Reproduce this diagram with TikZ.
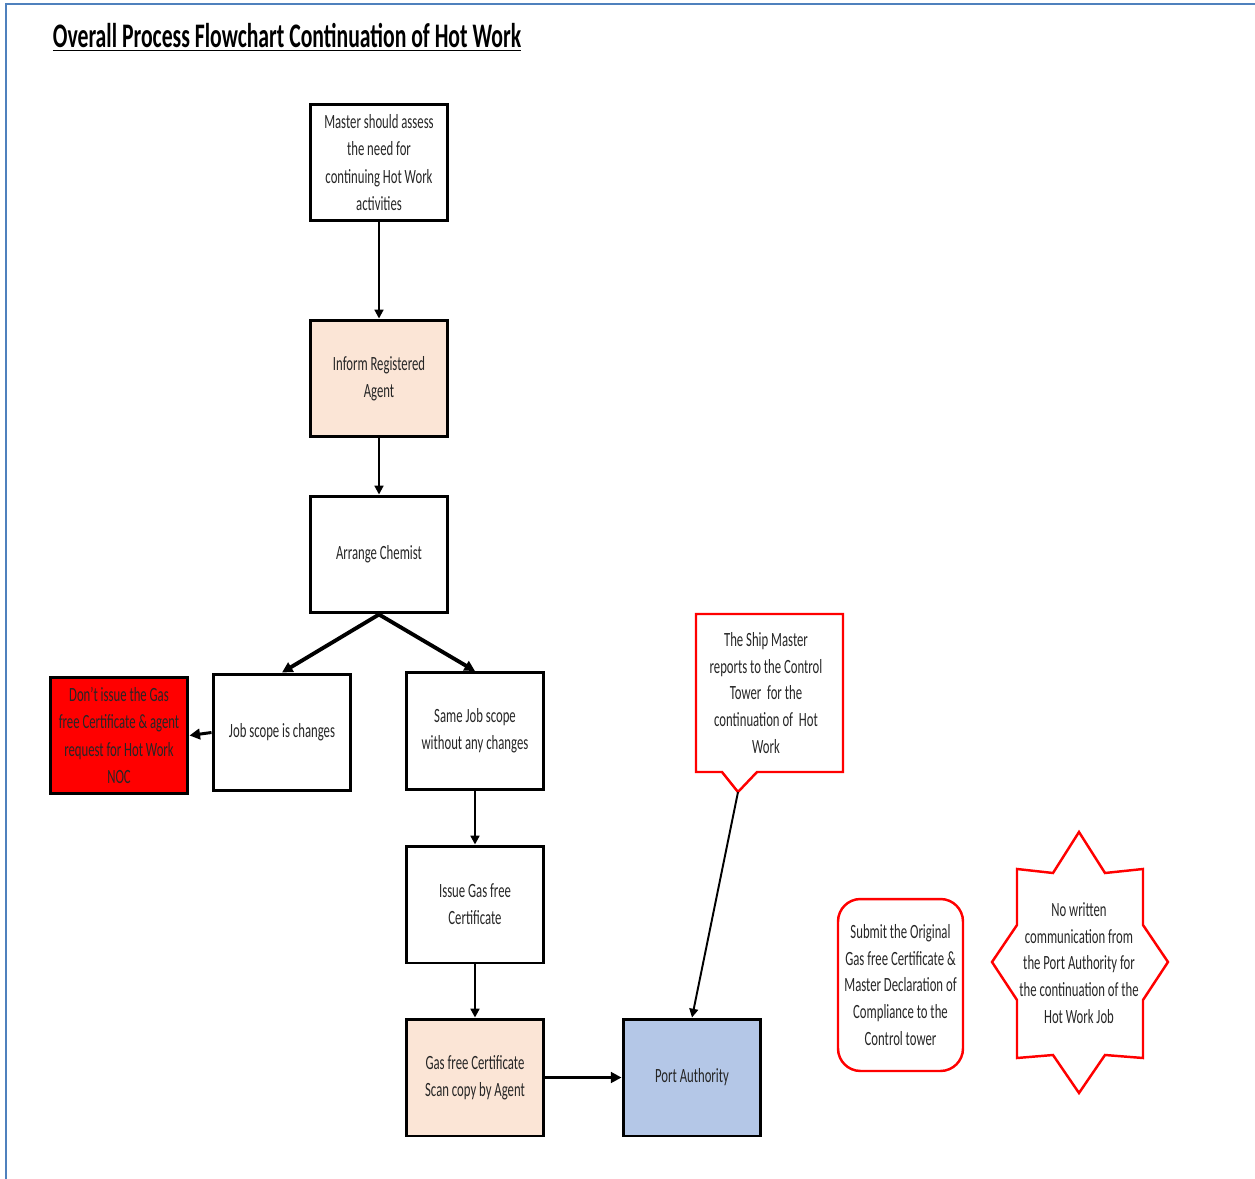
\documentclass[tikz,border=0pt]{standalone}
\usepackage{fontspec}
\setmainfont[FakeStretch=0.63]{Carlito}
\usetikzlibrary{arrows.meta}

\definecolor{framblue}{HTML}{4F81BD}
\definecolor{peach}{HTML}{FBE5D6}
\definecolor{paleblue}{HTML}{B4C7E7}
\definecolor{alarmred}{HTML}{FF0000}
\definecolor{txtgray}{HTML}{262626}

\begin{document}
\begin{tikzpicture}[x=0.02cm,y=-0.02cm,
    box/.style={draw,line width=1.7pt,minimum width=2.76cm,minimum height=2.34cm,
      inner sep=2pt,align=center,text=txtgray,
      font=\fontsize{11.5}{15.5}\selectfont},
    redline/.style={draw=alarmred,line width=1.4pt},
    flow/.style={line width=1.1pt,-{Triangle[length=5pt,width=5pt]}},
    branch/.style={line width=2.2pt,-{Triangle[length=6pt,width=6pt]}}]
  \useasboundingbox (0,0) rectangle (1255,1179);
  % frame and title
  \draw[framblue,line width=1.2pt] (6,1179) -- (6,4) -- (1255,4);
  \node[font=\fontsize{19.6}{24}\selectfont\bfseries,text=black] (title) at (287,37)
    {\underline{Overall Process Flowchart Continuation of Hot Work}};

  % main column
  \node[box] (master) at (379,162.5) {Master should assess\\the need for\\continuing Hot Work\\activities};
  \node[box,fill=peach] (inform) at (379,378.5) {Inform Registered\\Agent};
  \node[box] (chemist) at (379,554.5) {Arrange Chemist};
  \node[box] (jobchg) at (282,732.5) {Job scope is changes};
  \node[box] (samejob) at (475,731) {Same Job scope\\without any changes};
  \node[box,fill=alarmred] (refuse) at (119,735.5) {Don't issue the Gas\\free Certificate \& agent\\request for Hot Work\\NOC};
  \node[box] (issue) at (475,904.5) {Issue Gas free\\Certificate};
  \node[box,fill=peach] (scan) at (475,1077.5) {Gas free Certificate\\Scan copy by Agent};
  \node[box,fill=paleblue] (port) at (692,1077.5) {Port Authority};

  % callout
  \node[align=center,text=txtgray,font=\fontsize{11.5}{15.3}\selectfont]
    (report) at (766,693) {The Ship Master\\reports to the Control\\Tower\ \ for the\\continuation of\ \ Hot\\Work};
  \draw[redline,line join=miter] (696,614) -- (843,614) -- (843,772) -- (757,772)
    -- (738,792) coordinate (tip) -- (722,772) -- (696,772) -- cycle;

  % side notes
  \node[draw=alarmred,line width=1.4pt,rounded corners=0.45cm,minimum width=2.5cm,
    minimum height=3.44cm,align=center,text=txtgray,inner sep=1pt,
    font=\fontsize{11.5}{15.3}\selectfont]
    (submit) at (900.5,985) {Submit the Original\\Gas free Certificate \&\\Master Declaration of\\Compliance to the\\Control tower};
  \node[align=center,text=txtgray,font=\fontsize{11.5}{15.3}\selectfont]
    (nowritten) at (1079,963) {No written\\communication from\\the Port Authority for\\the continuation of the\\Hot Work Job};
  \draw[redline] (1079,832) -- (1105,873) -- (1143,869) -- (1143,925) -- (1168,962)
    -- (1143,1000) -- (1143,1058) -- (1105,1055) -- (1079,1093) -- (1053,1055)
    -- (1017,1058) -- (1017,1000) -- (992,962) -- (1017,925) -- (1017,869)
    -- (1053,873) -- cycle;

  % connectors
  \draw[flow] (master) -- (inform);
  \draw[flow] (inform) -- (chemist);
  \draw[branch] (chemist.south) -- (jobchg.north);
  \draw[branch] (chemist.south) -- (samejob.north);
  \draw[branch,line width=1.7pt] (jobchg.west) -- (refuse.east);
  \draw[flow,line width=1.5pt] (samejob) -- (issue);
  \draw[flow,line width=1.5pt] (issue) -- (scan);
  \draw[branch,line width=1.7pt] (scan) -- (port);
  \draw[flow] (tip) -- (port.north);
\end{tikzpicture}
\end{document}
